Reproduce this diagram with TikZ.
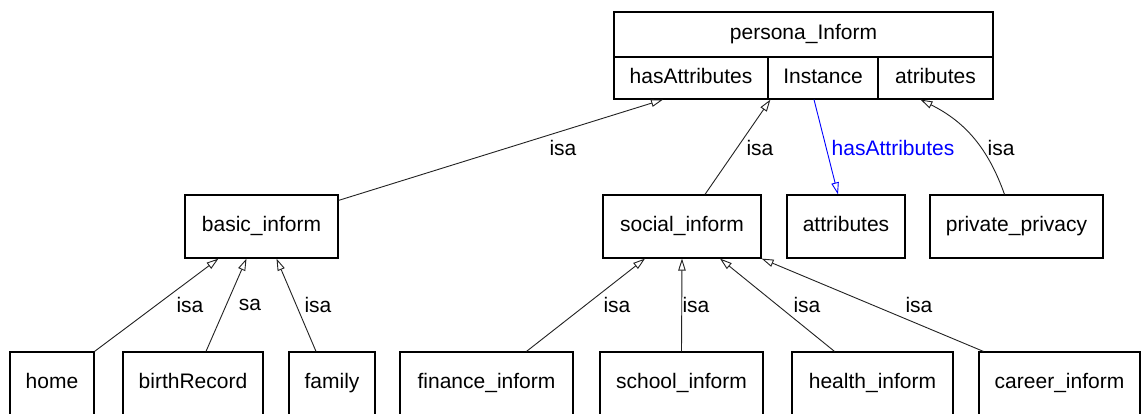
\documentclass[tikz,border=0pt]{standalone}
\usepackage{fontspec}
\setmainfont{Liberation Sans}
\usetikzlibrary{arrows.meta}
\definecolor{isaink}{HTML}{222222}
\definecolor{relblue}{HTML}{0000FF}
\tikzset{
  classbox/.style={
    draw=black, line width=1.2pt, inner sep=0pt, text height=15pt, text depth=4pt,
    font=\fontsize{21}{25}\selectfont},
  leafbox/.style={
    classbox, anchor=base, text height=36pt, text depth=44pt},
  isaarrow/.style={
    -{Triangle[open, length=12pt, width=7.5pt]}, draw=isaink, line width=0.9pt},
  relarrow/.style={
    -{Triangle[open, length=12pt, width=7.5pt]}, draw=relblue, line width=0.9pt},
  isalabel/.style={font=\fontsize{21}{25}\selectfont, text=black, inner sep=0pt},
  rellabel/.style={isalabel, text=relblue},
}
\begin{document}
\begin{tikzpicture}[x=1pt, y=-1pt]
\useasboundingbox (0,0) rectangle (1141,414);
\clip (0,0) rectangle (1141,414);
\fill[white] (0,0) rectangle (1141,414);

% top class with its three slots
\node[classbox, minimum width=379, minimum height=45] (persona) at (803.5,34.5)
  {persona\_Inform};
\node[classbox, minimum width=154, minimum height=42] (hasattr) at (691,78)
  {hasAttributes};
\node[classbox, minimum width=110, minimum height=42] (instance) at (823,78)
  {Instance};
\node[classbox, minimum width=115, minimum height=42] (atrib) at (935.5,78)
  {atributes};

% middle row
\node[classbox, minimum width=153, minimum height=63] (basic) at (261.5,226.5)
  {basic\_inform};
\node[classbox, minimum width=158, minimum height=63] (social) at (682,226.5)
  {social\_inform};
\node[classbox, minimum width=118, minimum height=63] (attrs) at (846,226.5)
  {attributes};
\node[classbox, minimum width=173, minimum height=63] (private) at (1016.5,226.5)
  {private\_privacy};

% bottom row (cut by the lower edge)
\node[leafbox, minimum width=84] (home) at (52,388) {home};
\node[leafbox, minimum width=140] (birth) at (193,388) {birthRecord};
\node[leafbox, minimum width=86] (family) at (332,388) {family};
\node[leafbox, minimum width=173] (finance) at (486.5,388) {finance\_inform};
\node[leafbox, minimum width=163] (school) at (681.5,388) {school\_inform};
\node[leafbox, minimum width=161] (health) at (872.5,388) {health\_inform};
\node[leafbox, minimum width=161] (career) at (1059.5,388) {career\_inform};

% upper links
\draw[isaarrow] ([yshift=-6pt]basic.north east) -- ([xshift=-28pt]hasattr.south);
\draw[isaarrow] ([xshift=23pt]social.north) -- ([xshift=3pt]instance.south west);
\draw[relarrow] ([xshift=-9pt]instance.south) -- ([xshift=-8pt]attrs.north);
\draw[isaarrow] ([xshift=-12pt]private.north) to[bend right=22]
  ([xshift=-15pt]atrib.south);
\node[isalabel] (l1) at (563,148) {isa};
\node[isalabel] (l2) at (760,148) {isa};
\node[rellabel] (l3) at (893,148) {hasAttributes};
\node[isalabel] (l4) at (1001,148) {isa};

% lower links
\draw[isaarrow] (home.north east) -- ([xshift=-43pt]basic.south);
\draw[isaarrow] ([xshift=13pt]birth.north) -- ([xshift=-15pt]basic.south);
\draw[isaarrow] ([xshift=-16pt]family.north) -- ([xshift=15pt]basic.south);
\draw[isaarrow] ([xshift=40pt]finance.north) -- ([xshift=-37pt]social.south);
\draw[isaarrow] (school.north) -- (social.south);
\draw[isaarrow] ([xshift=-38pt]health.north) -- ([xshift=38pt]social.south);
\draw[isaarrow] ([xshift=5pt]career.north west) -- (social.south east);
\node[isalabel] (l5) at (190,305) {isa};
\node[isalabel] (l6) at (250,305) {sa};
\node[isalabel] (l7) at (318,305) {isa};
\node[isalabel] (l8) at (617,305) {isa};
\node[isalabel] (l9) at (696,305) {isa};
\node[isalabel] (l10) at (807,305) {isa};
\node[isalabel] (l11) at (919,305) {isa};

\end{tikzpicture}
\end{document}
